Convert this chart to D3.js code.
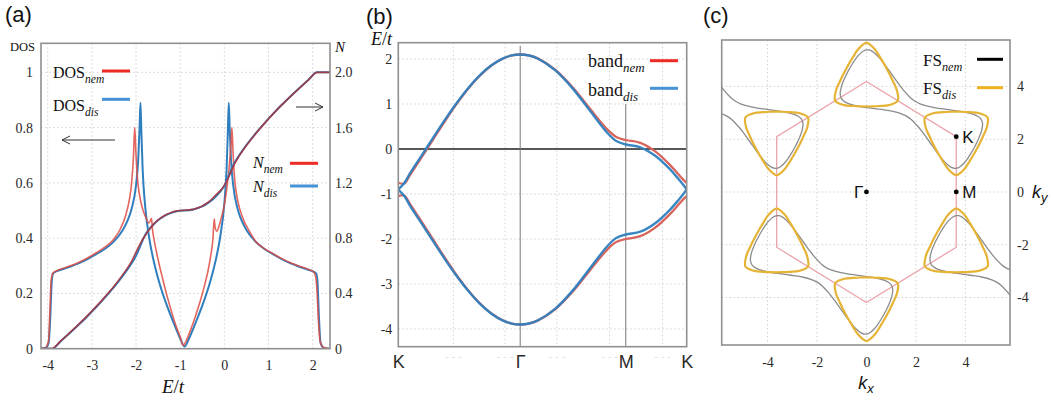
<!DOCTYPE html>
<html><head><meta charset="utf-8">
<script src="https://cdn.jsdelivr.net/npm/d3@7/dist/d3.min.js"></script>
<style>html,body{margin:0;padding:0;background:#fff;}svg{display:block;}</style>
</head><body>
<script>
// ================= DATA =================
// ---- panel (a): DOS and N vs E/t
const eTicks=[-4,-3,-2,-1,0,1,2];
const dosTicks=[0,0.2,0.4,0.6,0.8,1];
const dosTickLabels=["0","0.2","0.4","0.6","0.8","1"];
const nTicks=[0,0.4,0.8,1.2,1.6,2.0];
const nTickLabels=["0","0.4","0.8","1.2","1.6","2.0"];
const dosDis=[[-4.152,0],[-4.05,0.003],[-3.98,0.02],[-3.94,0.12],[-3.91,0.24],[-3.88,0.272],[-3.8,0.2805],[-3.7,0.2855],[-3.5,0.2965],[-3.3,0.3088],[-3.1,0.3242],[-2.9,0.3425],[-2.7,0.3616],[-2.5,0.3883],[-2.3,0.4295],[-2.2,0.4603],[-2.1,0.5063],[-2.0,0.5918],[-1.95,0.6843],[-1.92,0.80],[-1.9,0.89],[-1.88,0.79],[-1.85,0.6486],[-1.8,0.5265],[-1.7,0.399],[-1.6,0.317],[-1.5,0.2541],[-1.4,0.2015],[-1.3,0.1559],[-1.2,0.1142],[-1.1,0.0747],[-1.0,0.0369],[-0.9,0.008],[-0.8,0.0369],[-0.7,0.0747],[-0.6,0.1142],[-0.5,0.1559],[-0.4,0.2015],[-0.3,0.2541],[-0.2,0.317],[-0.1,0.399],[0.0,0.5265],[0.05,0.6486],[0.08,0.79],[0.1,0.89],[0.12,0.80],[0.15,0.6843],[0.2,0.5918],[0.3,0.5063],[0.4,0.4603],[0.5,0.4295],[0.7,0.3883],[0.9,0.3616],[1.1,0.3425],[1.3,0.3242],[1.5,0.3088],[1.7,0.2965],[1.9,0.2855],[2.0,0.2805],[2.08,0.272],[2.11,0.24],[2.14,0.12],[2.18,0.02],[2.25,0.003],[2.392,0]];
const dosNem=[[-4.152,0],[-4.05,0.004],[-3.98,0.03],[-3.95,0.14],[-3.92,0.25],[-3.88,0.274],[-3.8,0.282],[-3.7,0.288],[-3.5,0.299],[-3.3,0.312],[-3.1,0.328],[-2.9,0.347],[-2.7,0.368],[-2.5,0.397],[-2.35,0.435],[-2.25,0.475],[-2.15,0.54],[-2.1,0.60],[-2.06,0.69],[-2.03,0.80],[-2.0,0.70],[-1.97,0.62],[-1.92,0.555],[-1.85,0.505],[-1.78,0.475],[-1.71,0.455],[-1.67,0.465],[-1.65,0.472],[-1.63,0.435],[-1.58,0.385],[-1.5,0.322],[-1.4,0.255],[-1.3,0.192],[-1.2,0.136],[-1.1,0.085],[-1.0,0.042],[-0.93,0.012],[-0.86,0.03],[-0.76,0.07],[-0.66,0.115],[-0.56,0.165],[-0.46,0.222],[-0.36,0.29],[-0.3,0.345],[-0.26,0.395],[-0.23,0.47],[-0.21,0.44],[-0.17,0.425],[-0.1,0.455],[0.0,0.52],[0.06,0.585],[0.11,0.66],[0.15,0.74],[0.17,0.80],[0.2,0.70],[0.23,0.62],[0.28,0.555],[0.35,0.505],[0.45,0.46],[0.55,0.43],[0.7,0.39],[0.9,0.363],[1.1,0.344],[1.3,0.326],[1.5,0.311],[1.7,0.298],[1.9,0.287],[2.02,0.278],[2.07,0.26],[2.1,0.2],[2.13,0.1],[2.17,0.025],[2.25,0.004],[2.392,0]];
const nDis=[[-4.152,0],[-3.9,0],[-3.7,0.0555],[-3.5,0.113],[-3.3,0.173],[-3.1,0.235],[-2.9,0.301],[-2.7,0.371],[-2.5,0.445],[-2.3,0.526],[-2.1,0.618],[-2.0,0.672],[-1.9,0.746],[-1.8,0.82],[-1.7,0.866],[-1.6,0.901],[-1.5,0.93],[-1.4,0.952],[-1.3,0.97],[-1.2,0.983],[-1.1,0.993],[-1.0,0.998],[-0.9,1.0],[-0.8,1.002],[-0.7,1.007],[-0.6,1.017],[-0.5,1.03],[-0.4,1.048],[-0.3,1.07],[-0.2,1.099],[-0.1,1.134],[0.0,1.18],[0.1,1.254],[0.2,1.328],[0.3,1.382],[0.5,1.474],[0.7,1.555],[0.9,1.629],[1.1,1.699],[1.3,1.765],[1.5,1.827],[1.7,1.887],[1.9,1.945],[2.1,2.0],[2.392,2.0]];
const nNem=[[-4.152,0],[-3.92,0],[-3.7,0.058],[-3.5,0.116],[-3.3,0.176],[-3.1,0.239],[-2.9,0.306],[-2.7,0.377],[-2.5,0.452],[-2.3,0.536],[-2.1,0.632],[-2.0,0.698],[-1.9,0.762],[-1.8,0.815],[-1.7,0.862],[-1.6,0.902],[-1.5,0.932],[-1.4,0.955],[-1.3,0.973],[-1.2,0.986],[-1.1,0.995],[-1.0,1.0],[-0.9,1.002],[-0.8,1.004],[-0.7,1.009],[-0.6,1.019],[-0.5,1.033],[-0.4,1.052],[-0.3,1.077],[-0.2,1.11],[-0.1,1.14],[0.0,1.182],[0.1,1.243],[0.2,1.318],[0.3,1.376],[0.5,1.47],[0.7,1.552],[0.9,1.627],[1.1,1.697],[1.3,1.764],[1.5,1.826],[1.7,1.886],[1.9,1.944],[2.1,2.0],[2.392,2.0]];

// ---- panel (b): bands along K-Γ-M-K
const bandTicks=[2,1,0,-1,-2,-3,-4];
const kPathPos=[0,4.189,7.817,9.911];
const kPathLabels=["K","Γ","M","K"];
const kPathGrid=[1.89,3.67,5.45,7.26,9.08];
const bandX=[0,0.2,0.4,0.8,1.2,1.6,2.0,2.4,2.8,3.2,3.6,3.9,4.189,4.489,4.789,5.389,5.989,6.589,7.189,7.489,7.817,8.317,8.817,9.317,9.617,9.817,9.911];
const bandDisUp=[-0.9,-0.761,-0.544,-0.147,0.252,0.646,1.018,1.352,1.637,1.860,2.014,2.079,2.1,2.077,2.011,1.751,1.347,0.848,0.355,0.176,0.1,0.038,-0.145,-0.437,-0.657,-0.819,-0.9];
const bandDisLo=[-0.9,-1.039,-1.256,-1.653,-2.052,-2.446,-2.818,-3.152,-3.437,-3.660,-3.814,-3.879,-3.9,-3.877,-3.811,-3.551,-3.147,-2.648,-2.155,-1.976,-1.9,-1.838,-1.655,-1.363,-1.143,-0.981,-0.9];
const bandNemUp=[-0.75,-0.767,-0.579,-0.187,0.216,0.616,0.996,1.336,1.627,1.855,2.012,2.079,2.1,2.078,2.013,1.761,1.370,0.892,0.430,0.268,0.2,0.137,-0.048,-0.341,-0.555,-0.698,-0.75];
const bandNemLo=[-1.05,-1.033,-1.221,-1.613,-2.016,-2.416,-2.796,-3.136,-3.427,-3.655,-3.812,-3.879,-3.9,-3.878,-3.813,-3.561,-3.170,-2.692,-2.230,-2.068,-2.0,-1.937,-1.752,-1.459,-1.245,-1.102,-1.05];

// ---- panel (c): Fermi surfaces
const kTicks=[-4,-2,0,2,4];
const bzHex=[[0,4.189],[3.628,2.094],[3.628,-2.094],[0,-4.189],[-3.628,-2.094],[-3.628,2.094]];
const symPoints=[{name:"Γ",k:[0,0],side:"left"},{name:"K",k:[3.628,2.094],side:"right"},{name:"M",k:[3.628,0],side:"right"}];
const pocketAngles=[0,15,30,45,60,75,90,105,120,135,150,165,180,195,210,225,240,255,270,285,300,315,330,345];
const rUp=[1.075,0.98,0.95,0.98,1.075,1.27,1.46,1.27,1.075,0.98,0.95,0.98,1.075,1.27,1.46,1.27,1.075,0.98,0.95,0.98,1.075,1.27,1.46,1.27];
const rDown=[1.075,1.27,1.46,1.27,1.075,0.98,0.95,0.98,1.075,1.27,1.46,1.27,1.075,0.98,0.95,0.98,1.075,1.27,1.46,1.27,1.075,0.98,0.95,0.98];
const fsDisPockets=[{c:[0,4.189],r:"up"},{c:[-3.628,-2.094],r:"up"},{c:[3.628,-2.094],r:"up"},{c:[-3.628,2.094],r:"down"},{c:[3.628,2.094],r:"down"},{c:[0,-4.189],r:"down"}];
const fsNemTop=[[4.352,1.676],[4.463,1.879],[4.563,2.088],[4.646,2.306],[4.691,2.547],[4.664,2.696],[4.612,2.780],[4.500,2.868],[4.331,2.942],[4.154,2.990],[3.813,3.054],[3.509,3.096],[3.213,3.134],[2.917,3.172],[2.596,3.223],[2.165,3.339],[1.979,3.428],[1.810,3.544],[1.494,3.860],[1.288,4.112],[1.108,4.349],[0.927,4.587],[0.738,4.829],[0.513,5.093],[0.382,5.222],[0.234,5.331],[0.101,5.384],[0.003,5.387],[-0.139,5.336],[-0.326,5.177],[-0.473,4.995],[-0.604,4.804],[-0.724,4.607],[-0.835,4.404],[-0.935,4.195],[-1.019,3.977],[-1.063,3.736],[-1.037,3.587],[-0.984,3.504],[-0.872,3.415],[-0.703,3.342],[-0.527,3.293],[-0.186,3.229],[0.118,3.187],[0.415,3.149],[0.711,3.112],[1.032,3.060],[1.463,2.944],[1.649,2.856],[1.818,2.739],[2.134,2.423],[2.339,2.172],[2.520,1.934],[2.701,1.696],[2.889,1.454],[3.115,1.190],[3.246,1.062],[3.394,0.952],[3.526,0.900],[3.625,0.896],[3.767,0.947],[3.953,1.106],[4.101,1.288],[4.232,1.479]];
const fsNemBottom=[[-4.352,-1.676],[-4.463,-1.879],[-4.563,-2.088],[-4.646,-2.306],[-4.691,-2.547],[-4.664,-2.696],[-4.612,-2.780],[-4.500,-2.868],[-4.331,-2.942],[-4.154,-2.990],[-3.813,-3.054],[-3.509,-3.096],[-3.213,-3.134],[-2.917,-3.172],[-2.596,-3.223],[-2.165,-3.339],[-1.979,-3.428],[-1.810,-3.544],[-1.494,-3.860],[-1.288,-4.112],[-1.108,-4.349],[-0.927,-4.587],[-0.738,-4.829],[-0.513,-5.093],[-0.382,-5.222],[-0.234,-5.331],[-0.101,-5.384],[-0.003,-5.387],[0.139,-5.336],[0.326,-5.177],[0.473,-4.995],[0.604,-4.804],[0.724,-4.607],[0.835,-4.404],[0.935,-4.195],[1.019,-3.977],[1.063,-3.736],[1.037,-3.587],[0.984,-3.504],[0.872,-3.415],[0.703,-3.342],[0.527,-3.293],[0.186,-3.229],[-0.118,-3.187],[-0.415,-3.149],[-0.711,-3.112],[-1.032,-3.060],[-1.463,-2.944],[-1.649,-2.856],[-1.818,-2.739],[-2.134,-2.423],[-2.339,-2.172],[-2.520,-1.934],[-2.701,-1.696],[-2.889,-1.454],[-3.115,-1.190],[-3.246,-1.062],[-3.394,-0.952],[-3.526,-0.900],[-3.625,-0.896],[-3.767,-0.947],[-3.953,-1.106],[-4.101,-1.288],[-4.232,-1.479]];
const fsNemLeft=[[-6.223,3.060],[-5.792,2.944],[-5.606,2.856],[-5.437,2.739],[-5.121,2.423],[-4.916,2.172],[-4.735,1.934],[-4.554,1.696],[-4.366,1.454],[-4.140,1.190],[-4.009,1.062],[-3.861,0.952],[-3.729,0.900],[-3.630,0.896],[-3.488,0.947],[-3.302,1.106],[-3.154,1.288],[-3.023,1.479],[-2.903,1.676],[-2.792,1.879],[-2.692,2.088],[-2.609,2.306],[-2.564,2.547],[-2.591,2.696],[-2.643,2.780],[-2.755,2.868],[-2.924,2.942],[-3.101,2.990],[-3.442,3.054],[-3.746,3.096],[-4.042,3.134],[-4.338,3.172],[-4.659,3.223],[-5.090,3.339],[-5.276,3.428],[-5.445,3.544],[-5.761,3.860],[-5.967,4.112]];
const fsNemRight=[[6.223,-3.060],[5.792,-2.944],[5.606,-2.856],[5.437,-2.739],[5.121,-2.423],[4.916,-2.172],[4.735,-1.934],[4.554,-1.696],[4.366,-1.454],[4.140,-1.190],[4.009,-1.062],[3.861,-0.952],[3.729,-0.900],[3.630,-0.896],[3.488,-0.947],[3.302,-1.106],[3.154,-1.288],[3.023,-1.479],[2.903,-1.676],[2.792,-1.879],[2.692,-2.088],[2.609,-2.306],[2.564,-2.547],[2.591,-2.696],[2.643,-2.780],[2.755,-2.868],[2.924,-2.942],[3.101,-2.990],[3.442,-3.054],[3.746,-3.096],[4.042,-3.134],[4.338,-3.172],[4.659,-3.223],[5.090,-3.339],[5.276,-3.428],[5.445,-3.544],[5.761,-3.860],[5.967,-4.112]];

// ================= DRAWING =================
const SERIF='"Liberation Serif","Times New Roman",serif';
const SANS='"Liberation Sans",Arial,sans-serif';
const GRID='#d2d2d2', FRAME='#8f8f8f', TXT='#2a2a2a';
const RED='#df4a42', BLUE='#2f7fbf', RED_LEG='#ee2a24', BLUE_LEG='#4592d4';
const svg=d3.select("body").append("svg").attr("width",1053).attr("height",400);
const defs=svg.append("defs");
function clip(id,x0,y0,x1,y1){defs.append("clipPath").attr("id",id).append("rect").attr("x",x0).attr("y",y0).attr("width",x1-x0).attr("height",y1-y0);}
function frame(x0,y0,x1,y1){svg.append("rect").attr("x",x0).attr("y",y0).attr("width",x1-x0).attr("height",y1-y0).attr("fill","none").attr("stroke",FRAME).attr("stroke-width",1.6);}
function vgrid(vals,sx,y0,y1){svg.append("g").selectAll("line").data(vals).join("line").attr("x1",d=>sx(d)).attr("x2",d=>sx(d)).attr("y1",y0).attr("y2",y1).attr("stroke",GRID).attr("stroke-width",1).attr("stroke-dasharray","1.5,2.5");}
function hgrid(vals,sy,x0,x1){svg.append("g").selectAll("line").data(vals).join("line").attr("y1",d=>sy(d)).attr("y2",d=>sy(d)).attr("x1",x0).attr("x2",x1).attr("stroke",GRID).attr("stroke-width",1).attr("stroke-dasharray","1.5,2.5");}
function styleAxis(g,size,family){g.attr("font-family",family).attr("font-size",size);g.select(".domain").remove();g.selectAll(".tick line").remove();g.selectAll("text").attr("fill",TXT).attr("font-family",family).attr("font-size",size);}
function subLabel(x,y,main,sub,size,mainItalic,anchor){
  const t=svg.append("text").attr("x",x).attr("y",y).attr("font-family",SERIF).attr("font-size",size).attr("fill","#111").attr("text-anchor",anchor||"start");
  t.append("tspan").text(main).attr("font-style",mainItalic?"italic":"normal");
  t.append("tspan").text(sub).attr("font-style","italic").attr("font-size",size*0.72).attr("dy",size*0.3);
  return t;
}
function legLine(x0,x1,y,color,w){svg.append("line").attr("x1",x0).attr("x2",x1).attr("y1",y).attr("y2",y).attr("stroke",color).attr("stroke-width",w||3);}
function panelLetter(x,y,s){svg.append("text").attr("x",x).attr("y",y).attr("font-family",SANS).attr("font-size",22).attr("fill","#111").text(s);}

// ---------- Panel (a)
const aL=41,aR=330,aT=43.3,aB=348.7;
const aX=d3.scaleLinear().domain([-4.152,2.392]).range([aL,aR]);
const aY=d3.scaleLinear().domain([0,1.105]).range([aB,aT]);
const aN=d3.scaleLinear().domain([0,2.21]).range([aB,aT]);
clip("clipA",aL,aT,aR,aB);
vgrid(eTicks,aX,aT,aB); hgrid(dosTicks.slice(1),aY,aL,aR);
styleAxis(svg.append("g").attr("transform",`translate(0,${aB})`).call(d3.axisBottom(aX).tickValues(eTicks).tickFormat(d=>d).tickSize(0).tickPadding(11)),14,SERIF);
styleAxis(svg.append("g").attr("transform",`translate(${aL},0)`).call(d3.axisLeft(aY).tickValues(dosTicks).tickFormat((d,i)=>dosTickLabels[i]).tickSize(0).tickPadding(8)),14,SERIF);
styleAxis(svg.append("g").attr("transform",`translate(${aR},0)`).call(d3.axisRight(aN).tickValues(nTicks).tickFormat((d,i)=>nTickLabels[i]).tickSize(0).tickPadding(5)),14,SERIF);
const lineA=d3.line().x(d=>aX(d[0])).y(d=>aY(d[1])).curve(d3.curveMonotoneX);
const lineN=d3.line().x(d=>aX(d[0])).y(d=>aN(d[1])).curve(d3.curveMonotoneX);
const gA=svg.append("g").attr("clip-path","url(#clipA)").attr("fill","none");
gA.append("path").attr("d",lineA(dosDis)).attr("stroke",BLUE).attr("stroke-width",2);
gA.append("path").attr("d",lineA(dosNem)).attr("stroke",RED).attr("stroke-width",1.6).attr("opacity",0.85);
gA.append("path").attr("d",lineN(nDis)).attr("stroke",BLUE).attr("stroke-width",2);
gA.append("path").attr("d",lineN(nNem)).attr("stroke","#a8363f").attr("stroke-width",1.7).attr("opacity",0.9);
frame(aL,aT,aR,aB);
svg.append("text").attr("x",10).attr("y",51).attr("font-family",SERIF).attr("font-size",12.5).attr("fill","#111").text("DOS");
svg.append("text").attr("x",335).attr("y",52).attr("font-family",SERIF).attr("font-size",15).attr("font-style","italic").attr("fill","#111").text("N");
const etA=svg.append("text").attr("x",173).attr("y",393).attr("font-family",SERIF).attr("font-size",19).attr("fill","#111").attr("text-anchor","middle");
etA.append("tspan").text("E").attr("font-style","italic");etA.append("tspan").text("/");etA.append("tspan").text("t").attr("font-style","italic");
subLabel(53,78,"DOS","nem",16,false); legLine(102,130,71,RED_LEG);
subLabel(53,111,"DOS","dis",16,false); legLine(102,130,99.3,BLUE_LEG);
subLabel(253,168,"N","nem",16,true); legLine(290,318,163.3,RED_LEG);
subLabel(253,192,"N","dis",16,true); legLine(290,318,186,BLUE_LEG);
const arr=svg.append("g").attr("stroke","#333").attr("stroke-width",1).attr("fill","none");
arr.append("path").attr("d","M115,140 L62,140 M70,136 L62,140 L70,144");
arr.append("path").attr("d","M296,107 L323,107 M315,103 L323,107 L315,111");
panelLetter(5,22,"(a)");

// ---------- Panel (b)
const bL=398.3,bR=686.7,bT=42.7,bB=346.7;
const bX=d3.scaleLinear().domain([0,9.911]).range([bL,bR]);
const bY=d3.scaleLinear().domain([-4.393,2.362]).range([bB,bT]);
clip("clipB",bL,bT,bR,bB);
vgrid(kPathGrid,bX,bT,bB); hgrid(bandTicks,bY,bL,bR);
styleAxis(svg.append("g").attr("transform",`translate(${bL},0)`).call(d3.axisLeft(bY).tickValues(bandTicks).tickFormat(d=>d).tickSize(0).tickPadding(6)),14,SERIF);
styleAxis(svg.append("g").attr("transform",`translate(0,${bB})`).call(d3.axisBottom(bX).tickValues(kPathPos).tickFormat((d,i)=>kPathLabels[i]).tickSize(0).tickPadding(9)),18,SANS);
svg.append("g").selectAll("text").data(kPathGrid).join("text").attr("x",d=>bX(d)).attr("y",360).attr("text-anchor","middle").attr("font-family",SERIF).attr("font-size",11).attr("fill","#dedede").text("- - -");
const gB=svg.append("g").attr("clip-path","url(#clipB)").attr("fill","none");
gB.append("line").attr("x1",bL).attr("x2",bR).attr("y1",bY(0)).attr("y2",bY(0)).attr("stroke","#222").attr("stroke-width",1.3);
gB.append("line").attr("x1",bX(kPathPos[1])).attr("x2",bX(kPathPos[1])).attr("y1",bT+3).attr("y2",bB).attr("stroke","#777").attr("stroke-width",1);
gB.append("line").attr("x1",bX(kPathPos[2])).attr("x2",bX(kPathPos[2])).attr("y1",bY(1)).attr("y2",bB).attr("stroke","#777").attr("stroke-width",1);
const lineB=d3.line().x((d,i)=>bX(bandX[i])).y(d=>bY(d)).curve(d3.curveCatmullRom.alpha(0.5));
[bandNemUp,bandNemLo].forEach(s=>gB.append("path").attr("d",lineB(s)).attr("stroke","#d8645c").attr("stroke-width",2.3));
[bandDisUp,bandDisLo].forEach(s=>gB.append("path").attr("d",lineB(s)).attr("stroke",BLUE).attr("stroke-width",2.4).attr("opacity",0.95));
frame(bL,bT,bR,bB);
const etB=svg.append("text").attr("x",371).attr("y",45).attr("font-family",SERIF).attr("font-size",18).attr("fill","#111");
etB.append("tspan").text("E").attr("font-style","italic");etB.append("tspan").text("/");etB.append("tspan").text("t").attr("font-style","italic");
subLabel(588,67,"band","nem",18,false); legLine(650,678,60.7,RED_LEG);
subLabel(588,96,"band","dis",18,false); legLine(650,678,88.3,BLUE_LEG);
panelLetter(366,24,"(b)");

// ---------- Panel (c)
const cL=721.7,cR=1010,cT=40,cB=345;
const cX=d3.scaleLinear().domain([-5.85,5.8]).range([cL,cR]);
const cY=d3.scaleLinear().domain([-5.8,5.76]).range([cB,cT]);
clip("clipC",cL,cT,cR,cB);
vgrid(kTicks,cX,cT,cB); hgrid(kTicks,cY,cL,cR);
styleAxis(svg.append("g").attr("transform",`translate(0,${cB})`).call(d3.axisBottom(cX).tickValues(kTicks).tickFormat(d=>d).tickSize(0).tickPadding(12)),14,SERIF);
styleAxis(svg.append("g").attr("transform",`translate(${cR},0)`).call(d3.axisRight(cY).tickValues(kTicks).tickFormat(d=>d).tickSize(0).tickPadding(7)),14,SERIF);
const gC=svg.append("g").attr("clip-path","url(#clipC)").attr("fill","none");
const lineHex=d3.line().x(d=>cX(d[0])).y(d=>cY(d[1])).curve(d3.curveLinearClosed);
gC.append("path").attr("d",lineHex(bzHex)).attr("stroke","#eaa3aa").attr("stroke-width",1.3);
const lineCC=d3.line().x(d=>cX(d[0])).y(d=>cY(d[1])).curve(d3.curveCatmullRomClosed.alpha(0.5));
const lineCO=d3.line().x(d=>cX(d[0])).y(d=>cY(d[1])).curve(d3.curveCatmullRom.alpha(0.5));
[fsNemTop,fsNemBottom].forEach(p=>gC.append("path").attr("d",lineCC(p)).attr("stroke","#8c8c8c").attr("stroke-width",1.3));
[fsNemLeft,fsNemRight].forEach(p=>gC.append("path").attr("d",lineCO(p)).attr("stroke","#8c8c8c").attr("stroke-width",1.3));
fsDisPockets.forEach(pk=>{
  const r=pk.r==="up"?rUp:rDown;
  const pts=pocketAngles.map((a,i)=>[pk.c[0]+r[i]*Math.cos(a*Math.PI/180),pk.c[1]+r[i]*Math.sin(a*Math.PI/180)]);
  gC.append("path").attr("d",lineCC(pts)).attr("stroke","#e6b335").attr("stroke-width",2.2);
});
frame(cL,cT,cR,cB);
symPoints.forEach(p=>{
  svg.append("circle").attr("cx",cX(p.k[0])).attr("cy",cY(p.k[1])).attr("r",2.4).attr("fill","#000");
  svg.append("text").attr("x",p.side==="left"?cX(p.k[0])-3:cX(p.k[0])+6).attr("y",cY(p.k[1])+6).attr("text-anchor",p.side==="left"?"end":"start").attr("font-family",SANS).attr("font-size",17).attr("fill","#111").text(p.name);
});
const kx=svg.append("text").attr("x",866).attr("y",389).attr("text-anchor","middle").attr("font-family",SANS).attr("font-size",18).attr("font-style","italic").attr("fill","#111");
kx.append("tspan").text("k");kx.append("tspan").text("x").attr("font-size",13).attr("dy",4);
const ky=svg.append("text").attr("x",1032).attr("y",198).attr("font-family",SANS).attr("font-size",18).attr("font-style","italic").attr("fill","#111");
ky.append("tspan").text("k");ky.append("tspan").text("y").attr("font-size",13).attr("dy",4);
subLabel(923,66,"FS","nem",17,false); legLine(977,1003,59.3,"#000");
subLabel(923,94,"FS","dis",17,false); legLine(977,1003,87.7,"#f0b020");
panelLetter(703,23,"(c)");
</script>
</body></html>
